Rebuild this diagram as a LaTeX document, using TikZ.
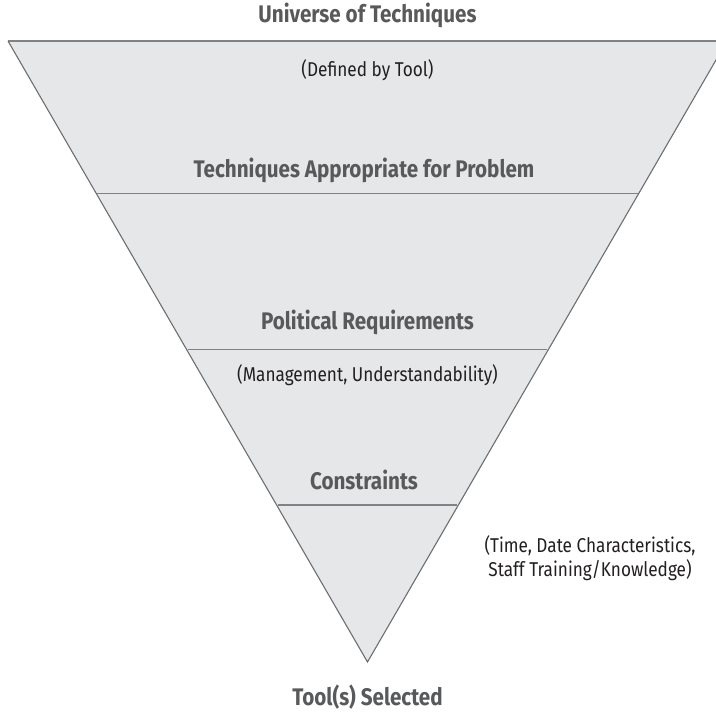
\documentclass[tikz,border=0pt]{standalone}
\usepackage{fontspec}
\setmainfont{Fira Sans}[FakeStretch=0.86]
\definecolor{bandfill}{HTML}{E6E7E8}
\definecolor{edgecol}{HTML}{6D6E71}
\definecolor{bandcol}{HTML}{808285}
\definecolor{headcol}{HTML}{58595B}
\definecolor{bodycol}{HTML}{231F20}
\tikzset{
  head/.style={font=\fontsize{24}{28}\selectfont\bfseries, text=headcol, inner sep=0pt},
  body/.style={font=\fontsize{20}{23.5}\selectfont, text=bodycol, inner sep=0pt, align=center},
  edge/.style={draw=edgecol, line width=1.1pt},
  bandline/.style={draw=bandcol, line width=1.6pt},
}
\begin{document}
\begin{tikzpicture}[x=1pt,y=-1pt]
\useasboundingbox (0,0) rectangle (716,713);
\clip (0,0) rectangle (716,713);
\coordinate (tl) at (8,41);
\coordinate (tr) at (727,41);
\coordinate (apex) at (367.5,662);
\coordinate (a1) at (97.3,193.3);
\coordinate (b1) at (637.7,193.3);
\coordinate (a2) at (187.7,349.3);
\coordinate (b2) at (547.3,349.3);
\coordinate (a3) at (278.3,505);
\coordinate (b3) at (456.7,505);
\fill[bandfill] (tl) -- (tr) -- (apex) -- cycle;
\draw[bandline] (tl) -- (tr);
\draw[bandline] (a1) -- (b1);
\draw[bandline] (a2) -- (b2);
\draw[bandline] (a3) -- (b3);
\draw[edge, line join=miter] (tl) -- (apex) -- (tr);
\node[head] (universe) at (367.5,15) {Universe of Techniques};
\node[body] (defined) at (367.5,70) {(Defined by Tool)};
\node[head] (approp) at (364,170) {Techniques Appropriate for Problem};
\node[head] (political) at (367.5,322) {Political Requirements};
\node[body] (mgmt) at (367.5,375) {(Management, Understandability)};
\node[head] (constraints) at (364,480) {Constraints};
\node[body] (timenote) at (590,558) {(Time, Date Characteristics,\\Staff Training/Knowledge)};
\node[head] (selected) at (367.5,697) {Tool(s) Selected};
\end{tikzpicture}
\end{document}
